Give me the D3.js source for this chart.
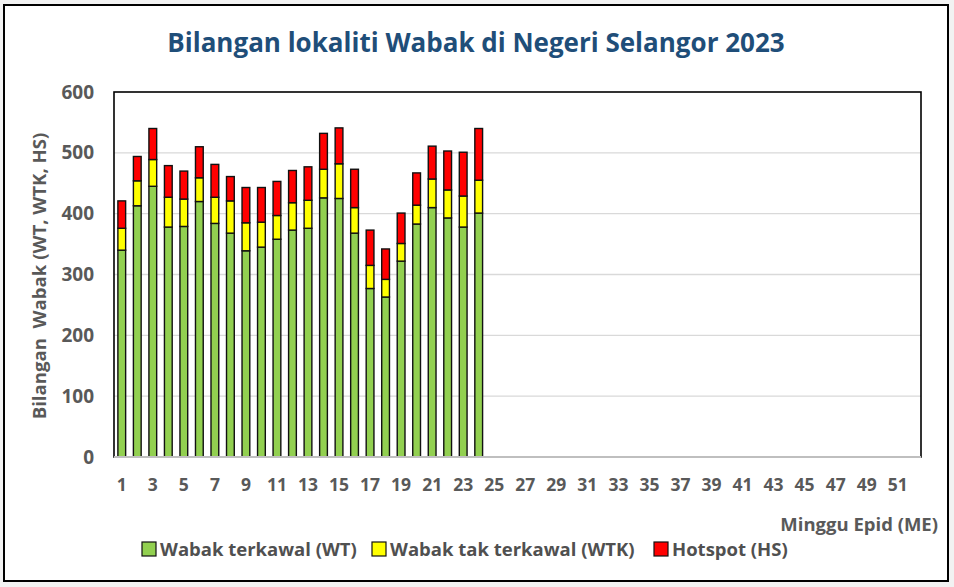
<!DOCTYPE html>
<html>
<head>
<meta charset="utf-8">
<script src="https://cdn.jsdelivr.net/npm/d3@7/dist/d3.min.js"></script>
<style>
  html, body { margin: 0; padding: 0; background: #f2f2f2; }
  svg { display: block; }
  text { font-family: "Open Sans", Lato, sans-serif; }
</style>
</head>
<body>
<svg id="chart" width="954" height="587"></svg>
<script>
// ---- Data ----
const weeks = d3.range(1, 53);
const wt  = [340, 413, 445, 378, 379, 420, 384, 368, 339, 345, 358, 373, 376, 426, 425, 368, 277, 263, 322, 383, 410, 393, 378, 401];
const wtk = [36, 41, 44, 49, 45, 39, 43, 53, 46, 41, 39, 45, 46, 47, 57, 42, 38, 29, 29, 31, 47, 46, 51, 54];
const hs  = [45, 40, 51, 52, 46, 51, 54, 40, 58, 57, 56, 53, 55, 59, 59, 63, 58, 50, 50, 53, 54, 64, 72, 85];
const seriesNames = ["Wabak terkawal (WT)", "Wabak tak terkawal (WTK)", "Hotspot (HS)"];
const seriesColors = ["#92D050", "#FFFF00", "#FF0000"];
const yTicks = [0, 100, 200, 300, 400, 500, 600];
const xTickLabels = weeks.filter(w => w % 2 === 1);

const table = wt.map((v, i) => ({ week: weeks[i], WT: v, WTK: wtk[i], HS: hs[i] }));
const keys = ["WT", "WTK", "HS"];

const svg = d3.select("#chart");
// outer frame
svg.append("rect").attr("x", 4).attr("y", 5).attr("width", 944).attr("height", 576)
  .attr("fill", "#ffffff").attr("stroke", "#000").attr("stroke-width", 2);

const m = { left: 114, right: 921, top: 92, bottom: 457 };
const x = d3.scaleBand().domain(weeks).range([m.left, m.right]).paddingInner(0.5).paddingOuter(0.25);
const y = d3.scaleLinear().domain([0, 600]).range([m.bottom, m.top]);

// gridlines
svg.append("g").selectAll("line").data(yTicks.filter(t => t > 0 && t < 600)).join("line")
  .attr("x1", m.left).attr("x2", m.right)
  .attr("y1", d => y(d)).attr("y2", d => y(d))
  .attr("stroke", "#d9d9d9").attr("stroke-width", 1.3);

// plot border
svg.append("rect").attr("x", m.left).attr("y", m.top)
  .attr("width", m.right - m.left).attr("height", m.bottom - m.top)
  .attr("fill", "none").attr("stroke", "#000").attr("stroke-width", 1.6);

// stacked bars
const stack = d3.stack().keys(keys)(table);
svg.append("g").selectAll("g").data(stack).join("g")
  .attr("fill", (d, i) => seriesColors[i])
  .selectAll("rect").data(d => d).join("rect")
  .attr("x", d => x(d.data.week))
  .attr("width", x.bandwidth())
  .attr("y", d => y(d[1]))
  .attr("height", d => y(d[0]) - y(d[1]))
  .attr("stroke", "#111").attr("stroke-width", 1.4);

// x axis line
svg.append("line").attr("x1", m.left).attr("x2", m.right)
  .attr("y1", m.bottom).attr("y2", m.bottom)
  .attr("stroke", "#bfbfbf").attr("stroke-width", 2);

// y axis
const yAxis = d3.axisLeft(y).tickValues(yTicks).tickSize(0).tickPadding(20);
const gy = svg.append("g").attr("transform", `translate(${m.left},0)`).call(yAxis);
gy.select(".domain").remove();
gy.selectAll("text").attr("fill", "#595959").attr("font-size", 19).attr("font-weight", "bold")
  .style("font-family", "'Open Sans', sans-serif");

// x axis
const xAxis = d3.axisBottom(x).tickValues(xTickLabels).tickSize(0).tickPadding(22);
const gx = svg.append("g").attr("transform", `translate(0,${m.bottom})`).call(xAxis);
gx.select(".domain").remove();
gx.selectAll("text").attr("fill", "#595959").attr("font-size", 17.5).attr("font-weight", "bold")
  .style("font-family", "'Open Sans', sans-serif");

// title
svg.append("text").attr("x", 476).attr("y", 52).attr("text-anchor", "middle")
  .attr("fill", "#1F4E79").attr("font-size", 26).attr("font-weight", "bold")
  .text("Bilangan lokaliti Wabak di Negeri Selangor 2023");

// y title
svg.append("text").attr("transform", "translate(46,276) rotate(-90)")
  .attr("text-anchor", "middle").attr("fill", "#595959").attr("font-size", 18.6).attr("font-weight", "bold")
  .attr("xml:space", "preserve")
  .text("Bilangan  Wabak (WT, WTK, HS)");

// x title
svg.append("text").attr("x", 938).attr("y", 531).attr("text-anchor", "end")
  .attr("fill", "#595959").attr("font-size", 18.5).attr("font-weight", "bold")
  .text("Minggu Epid (ME)");

// legend
const legendX = [142, 372, 654];
const lg = svg.append("g").selectAll("g").data(seriesNames).join("g")
  .attr("transform", (d, i) => `translate(${legendX[i]},549)`);
lg.append("rect").attr("x", 0).attr("y", -7).attr("width", 14).attr("height", 14)
  .attr("fill", (d, i) => seriesColors[i]).attr("stroke", "#111").attr("stroke-width", 1.2);
lg.append("text").attr("x", 18).attr("y", 6.5).attr("fill", "#505050")
  .attr("font-size", 18.5).attr("font-weight", "bold").text(d => d);
</script>
</body>
</html>
